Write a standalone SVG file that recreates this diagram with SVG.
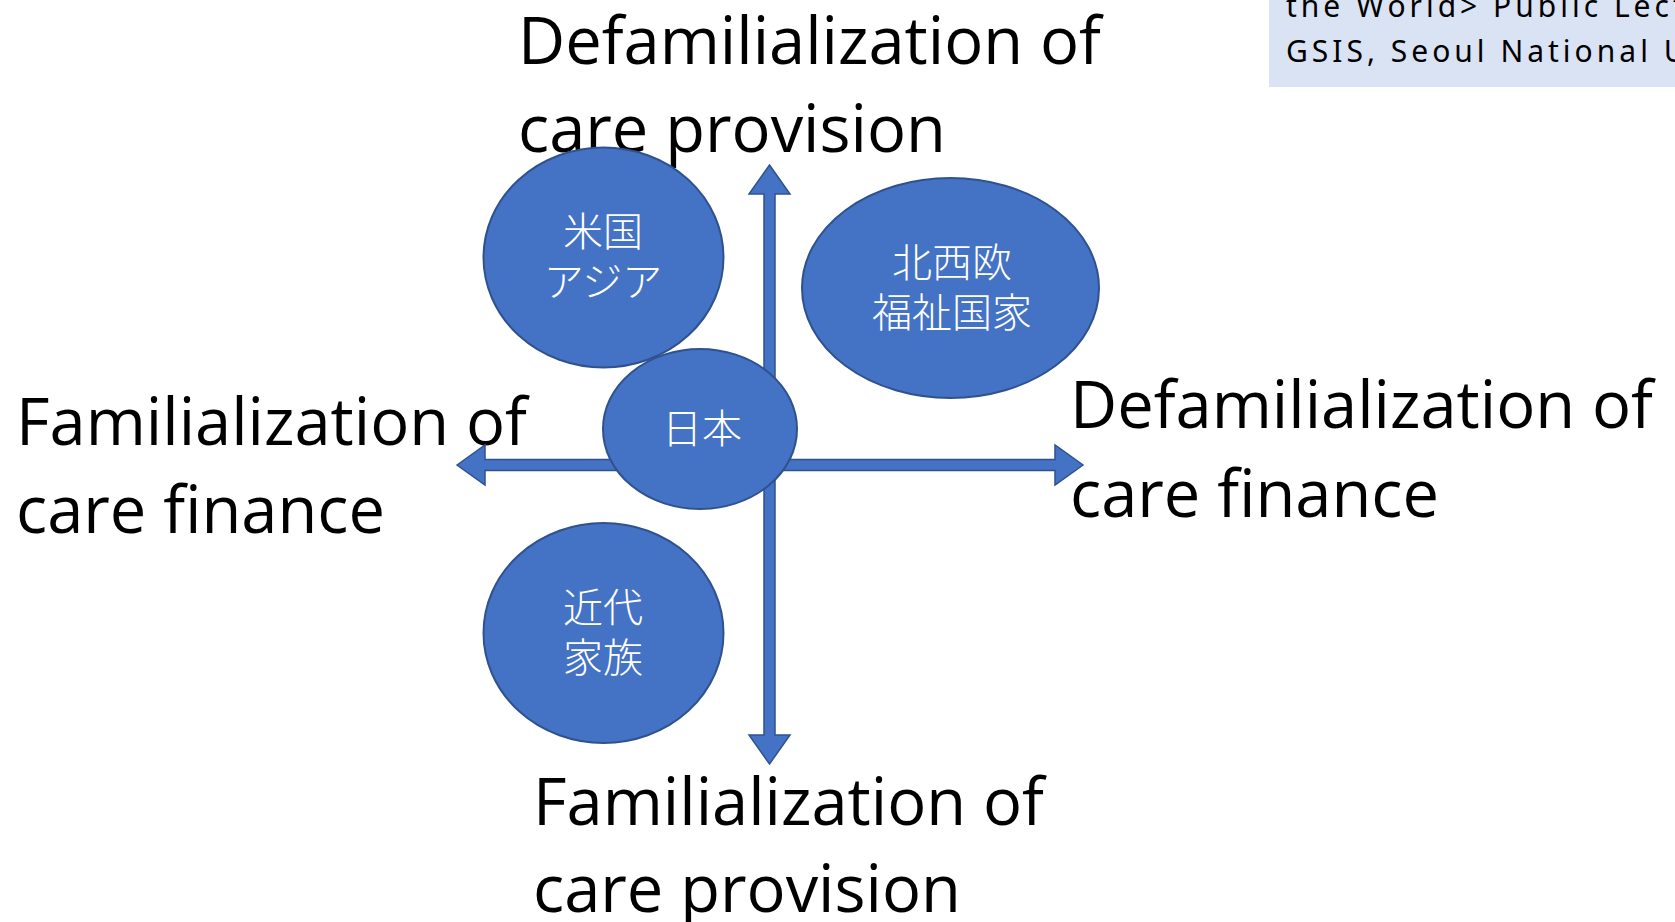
<svg xmlns="http://www.w3.org/2000/svg" width="1675" height="922" viewBox="0 0 1675 922">
<style>
.lbl{font-family:"Open Sans","Liberation Sans",sans-serif;font-size:65px;fill:#000}
.node ellipse{fill:#4472C4;stroke:#2F528F;stroke-width:2}
.node text{font-family:"Noto Sans CJK JP",sans-serif;font-size:40px;font-weight:300;fill:#fff;text-anchor:middle}
.arrow{fill:#4472C4;stroke:#2F528F;stroke-width:1.5;stroke-linejoin:miter}
.note{font-family:"Noto Sans","Liberation Sans",sans-serif;font-size:30px;fill:#000;letter-spacing:4px}
</style>
<rect width="1675" height="922" fill="#fff"/>
<g id="note">
<rect x="1269" y="0" width="406" height="87" fill="#DAE3F3"/>
<text class="note" x="1286" y="17">the World&gt; Public Lect</text>
<text class="note" x="1286" y="62">GSIS, Seoul National U</text>
</g>
<g id="label-top"><text class="lbl" x="518" y="64">Defamilialization of</text><text class="lbl" x="518" y="152">care provision</text></g>
<g id="label-left"><text class="lbl" x="16" y="445">Familialization of</text><text class="lbl" x="16" y="533">care finance</text></g>
<g id="label-right"><text class="lbl" x="1070" y="428">Defamilialization of</text><text class="lbl" x="1070" y="517">care finance</text></g>
<g id="label-bottom"><text class="lbl" x="533" y="825">Familialization of</text><text class="lbl" x="533" y="912">care provision</text></g>
<g id="connectors">
<polygon class="arrow" points="769.5,165 790,194 775,194 775,735 790,735 769.5,764 749,735 764,735 764,194 749,194"/>
<polygon class="arrow" points="457,465 485,445 485,459.5 1055,459.5 1055,445 1083,465 1055,485 1055,470.5 485,470.5 485,485"/>
</g>
<g id="node-us-asia" class="node"><ellipse cx="603.5" cy="257.5" rx="120" ry="110"/><text x="603" y="246">米国</text><text x="603" y="296">アジア</text></g>
<g id="node-nordic" class="node"><ellipse cx="950.5" cy="288" rx="148.5" ry="110"/><text x="952" y="277">北西欧</text><text x="952" y="327">福祉国家</text></g>
<g id="node-modern-family" class="node"><ellipse cx="603.5" cy="633" rx="120" ry="110"/><text x="603" y="622">近代</text><text x="603" y="672">家族</text></g>
<g id="node-japan" class="node"><ellipse cx="700" cy="429" rx="97" ry="80"/><text x="702" y="443">日本</text></g>
</svg>
